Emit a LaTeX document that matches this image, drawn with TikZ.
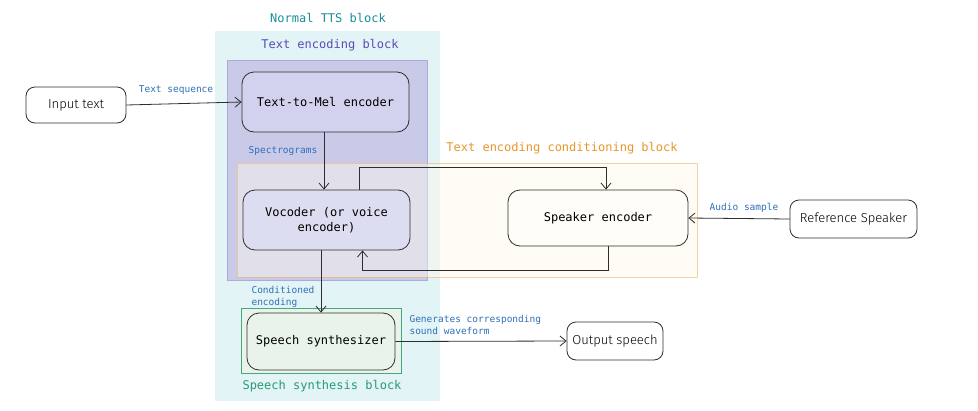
\documentclass[tikz,border=0pt]{standalone}
\usepackage{fontspec}
\setmonofont{DejaVu Sans Mono}
\newfontfamily\handfont{Fira Sans Light}
\usetikzlibrary{arrows.meta,positioning}
\definecolor{cyanfill}{HTML}{E2F4F6}
\definecolor{tealtext}{HTML}{1A8F99}
\definecolor{purplefill}{HTML}{C9CAE8}
\definecolor{purpleborder}{HTML}{ADAAD9}
\definecolor{purpletext}{HTML}{5B4BB5}
\definecolor{orangetext}{HTML}{E9962A}
\definecolor{orangeborder}{HTML}{EDB46A}
\definecolor{condfill}{HTML}{FFF9EC}
\definecolor{greenborder}{HTML}{45A680}
\definecolor{greenfill}{HTML}{EAF3E9}
\definecolor{greentext}{HTML}{2A9A72}
\definecolor{bluelabel}{HTML}{2F70B8}
\definecolor{ttmfill}{HTML}{D2D2EE}
\definecolor{vocfill}{HTML}{DCDDF0}
\definecolor{spkfill}{HTML}{FFFDF7}
\definecolor{edge}{HTML}{2E2E2E}
\tikzset{
  box/.style={draw=edge, line width=0.8pt, rounded corners=12pt, align=center,
    font=\ttfamily\fontsize{12}{15}\selectfont},
  hand/.style={draw=edge, line width=0.8pt, rounded corners=9pt, fill=white,
    font=\handfont\fontsize{13}{15}\selectfont},
  arr/.style={draw=edge, line width=0.8pt, -{Straight Barb[length=6pt,width=10pt]}},
  lbl/.style={text=bluelabel, font=\ttfamily\fontsize{9.5}{12}\selectfont, align=left},
  blocklbl/.style={font=\ttfamily\fontsize{12}{14}\selectfont}
}
\begin{document}
\begin{tikzpicture}[x=1pt,y=-1pt]
\useasboundingbox (0,0) rectangle (978,410);
\fill[white] (0,0) rectangle (978,410);
% blocks
\fill[cyanfill] (215,31) rectangle (440,401);
\node[blocklbl, text=tealtext] (ntts) at (328,18) {Normal TTS block};
\filldraw[fill=purplefill, draw=purpleborder, line width=0.6pt] (227,60) rectangle (427,280);
\node[blocklbl, text=purpletext] (teb) at (330,45) {Text encoding block};
\fill[condfill, opacity=0.45] (237,163) rectangle (697,277);
\draw[orangeborder, opacity=0.6, line width=0.9pt] (237,163) rectangle (697,277);
\node[blocklbl, text=orangetext] (tecb) at (562,148) {Text encoding conditioning block};
\filldraw[fill=greenfill, draw=greenborder, line width=0.8pt] (241,308) rectangle (401,373);
\node[blocklbl, text=greentext] (ssb) at (322,386) {Speech synthesis block};
% nodes
\node[hand, minimum width=100pt, minimum height=36pt] (in) at (76,105) {Input text};
\node[box, fill=ttmfill, minimum width=167pt, minimum height=60pt] (ttm) at (325.5,102) {Text-to-Mel encoder};
\node[box, fill=vocfill, minimum width=167pt, minimum height=60pt] (voc) at (326.5,220) {Vocoder (or voice\\encoder)};
\node[box, fill=spkfill, minimum width=180pt, minimum height=56pt] (spk) at (598,218) {Speaker encoder};
\node[hand, minimum width=127pt, minimum height=38pt] (ref) at (853.5,219) {Reference Speaker};
\node[box, fill=greenfill, minimum width=148pt, minimum height=57pt] (syn) at (321,341.5) {Speech synthesizer};
\node[hand, minimum width=96pt, minimum height=38pt] (out) at (615,341) {Output speech};
% connectors
\draw[arr] (in.east) -- (ttm.west);
\node[lbl] (l1) at (176,90) {Text sequence};
\draw[arr] (ttm.south -| 324,0) -- (voc.north -| 324,0);
\node[lbl] (l2) at (283,151) {Spectrograms};
\draw[arr] ([xshift=33pt]voc.north) -- ++(0,-22) -| ([xshift=8pt]spk.north);
\draw[arr] ([xshift=10pt]spk.south) -- ++(0,24) -| ([xshift=36pt]voc.south);
\draw[arr] (ref.west) -- (spk.east);
\node[lbl] (l3) at (744,208) {Audio sample};
\draw[arr] (voc.south -| syn.north) -- (syn.north);
\node[lbl, anchor=north west] (l4) at (248,283) {Conditioned\\encoding};
\draw[arr] (syn.east) -- (out.west);
\node[lbl, anchor=north west] (l5) at (406,312) {Generates corresponding\\sound waveform};
\end{tikzpicture}
\end{document}
